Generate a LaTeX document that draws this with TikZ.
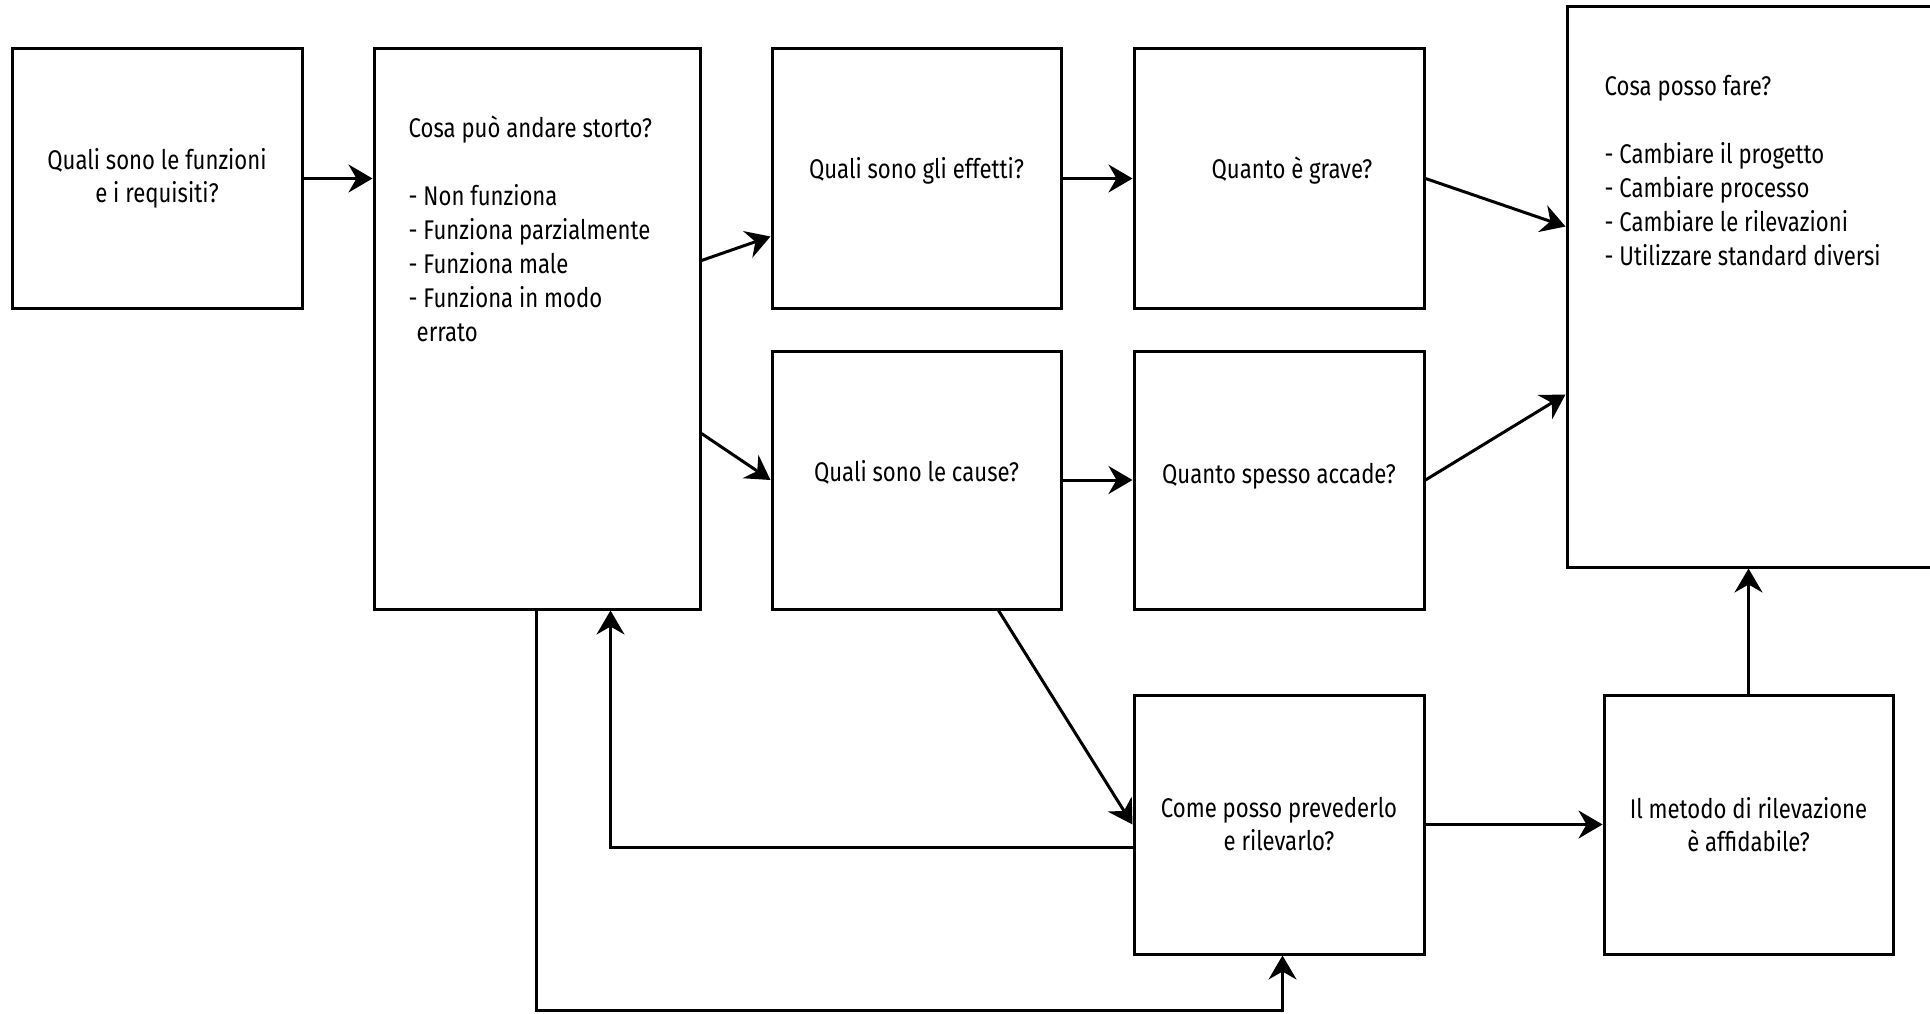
\documentclass[tikz,border=0pt]{standalone}
\usepackage{fontspec}
\setmainfont{Fira Sans}[FakeStretch=0.82]
\usetikzlibrary{arrows.meta,calc}
\begin{document}
\begin{tikzpicture}[x=1pt,y=-1pt,
  box/.style={draw, line width=3pt, inner sep=0pt, rectangle, align=center, font=\fontsize{27}{33}\selectfont},
  lbl/.style={inner sep=0pt, align=center, font=\fontsize{27}{33}\selectfont},
  arr/.style={line width=3pt, -{Stealth[length=24pt,width=28pt,inset=8pt]}},
  txt/.style={inner sep=0pt, align=left, anchor=north west, font=\fontsize{27}{34}\selectfont}]
\useasboundingbox[fill=white] (0,0) rectangle (1930,1014);
\begin{scope}
\clip (0,0) rectangle (1930,1014);
\node[box, minimum width=290pt, minimum height=259pt] (A) at (157,178.5) {Quali sono le funzioni\\e i requisiti?};
\node[box, minimum width=326pt, minimum height=560pt] (B) at (537,329) {};
\node[box, minimum width=289pt, minimum height=259pt, label={[lbl,yshift=8pt]center:Quali sono gli effetti?}] (C) at (916.5,178.5) {};
\node[box, minimum width=290pt, minimum height=259pt, label={[lbl,yshift=8pt,xshift=13pt]center:Quanto è grave?}] (D) at (1279,178.5) {};
\node[box, minimum width=365pt, minimum height=560pt] (E) at (1749.5,287) {};
\node[box, minimum width=289pt, minimum height=258pt, label={[lbl,yshift=8pt]center:Quali sono le cause?}] (F) at (916.5,480) {};
\node[box, minimum width=290pt, minimum height=258pt, label={[lbl,yshift=4pt]center:Quanto spesso accade?}] (G) at (1279,480) {};
\node[box, minimum width=290pt, minimum height=259pt] (H) at (1279,824.5) {Come posso prevederlo\\e rilevarlo?};
\node[box, minimum width=289pt, minimum height=259pt] (I) at (1748.5,824.5) {Il metodo di rilevazione\\è affidabile?};
\end{scope}
\node[txt] (Bt) at ($(B.north west)+(36,68)$) {Cosa può andare storto?\\[34pt]- Non funziona\\- Funziona parzialmente\\- Funziona male\\- Funziona in modo\\\hspace*{8pt}errato};
\node[txt] (Et) at ($(E.north west)+(39,70)$) {Cosa posso fare?\\[34pt]- Cambiare il progetto\\- Cambiare processo\\- Cambiare le rilevazioni\\- Utilizzare standard diversi};
\draw[arr] (A.east) -- (B.west |- A.east);
\draw[arr] ($(B.north east)+(0,213)$) -- ($(C.north west)+(0,189)$);
\draw[arr] ($(B.north east)+(0,386)$) -- (F.west);
\draw[arr] (C.east) -- (D.west);
\draw[arr] (D.east) -- ($(E.north west)+(0,221)$);
\draw[arr] (F.east) -- (G.west);
\draw[arr] (G.east) -- ($(E.north west)+(0,389)$);
\draw[arr] ($(F.south west)+(228,0)$) -- (H.west);
\draw[arr] (H.east) -- (I.west);
\draw[arr] (I.north) -- (E.south -| I.north);
\draw[arr] ($(H.north west)+(0,154)$) -| ($(B.south west)+(238,0)$);
\coordinate (Bdown) at ($(B.south west)+(164,400)$);
\draw[arr] ($(B.south west)+(164,0)$) -- (Bdown) -| ($(H.south west)+(150,0)$);
\end{tikzpicture}
\end{document}
